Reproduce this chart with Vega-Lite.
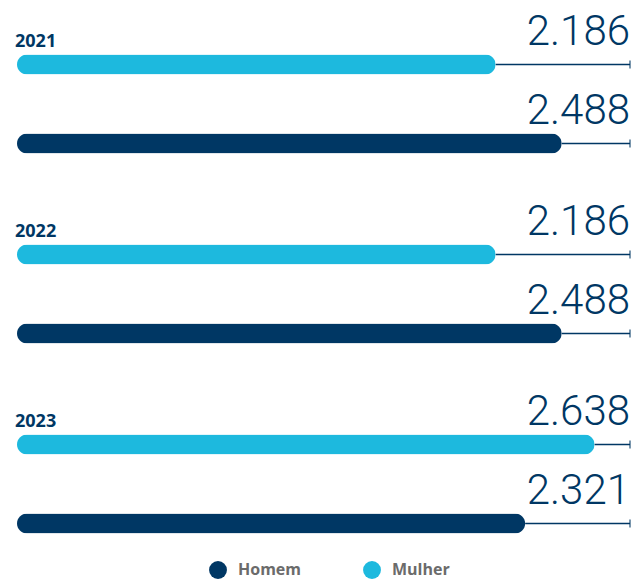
{
  "$schema": "https://vega.github.io/schema/vega-lite/v6.json",
  "padding": {"left": 15, "top": 10, "right": 6, "bottom": 5},
  "data": {"values": [
    {"year": "2021", "gender": "Mulher", "value": 2186},
    {"year": "2021", "gender": "Homem", "value": 2488},
    {"year": "2022", "gender": "Mulher", "value": 2186},
    {"year": "2022", "gender": "Homem", "value": 2488},
    {"year": "2023", "gender": "Mulher", "value": 2638},
    {"year": "2023", "gender": "Homem", "value": 2321}
  ]},
  "facet": {"row": {"field": "year", "type": "nominal", "header": null}},
  "spacing": 17,
  "spec": {
    "width": 613,
    "height": {"step": 79},
    "encoding": {
      "y": {"field": "gender", "type": "nominal", "sort": ["Mulher", "Homem"], "axis": null,
            "scale": {"paddingInner": 0, "paddingOuter": 0}}
    },
    "layer": [
      {
        "mark": {"type": "rule", "color": "#003764", "strokeWidth": 1.5},
        "encoding": {
          "x": {"field": "value", "type": "quantitative", "scale": {"domain": [0, 2800]}, "axis": null},
          "x2": {"datum": 2800}
        }
      },
      {
        "mark": {"type": "tick", "orient": "vertical", "size": 8, "thickness": 1.5, "color": "#003764"},
        "encoding": {"x": {"datum": 2800, "type": "quantitative"}}
      },
      {
        "mark": {"type": "bar", "height": 20, "cornerRadius": 10},
        "encoding": {
          "x": {"field": "value", "type": "quantitative"},
          "color": {
            "field": "gender", "type": "nominal",
            "scale": {"domain": ["Homem", "Mulher"], "range": ["#003764", "#1DB9DE"]},
            "legend": {
              "title": null, "orient": "none", "direction": "horizontal",
              "legendX": 192, "legendY": 536,
              "symbolType": "circle", "symbolSize": 320, "symbolStrokeWidth": 0,
              "labelFont": "Open Sans", "labelFontSize": 16, "labelFontWeight": "bold",
              "labelColor": "#6b6b6b", "labelOffset": 11, "columnPadding": 61
            }
          }
        }
      },
      {
        "mark": {"type": "text", "align": "right", "baseline": "alphabetic", "dy": -20,
                 "font": "Roboto", "fontWeight": 300, "fontSize": 42, "color": "#003764"},
        "encoding": {
          "x": {"datum": 2800, "type": "quantitative"},
          "text": {"field": "value", "type": "quantitative", "format": ",d"}
        }
      },
      {
        "transform": [{"filter": "datum.gender === 'Mulher'"}],
        "mark": {"type": "text", "align": "left", "baseline": "alphabetic", "dy": -18, "dx": -2,
                 "font": "Open Sans", "fontWeight": "bold", "fontSize": 18, "color": "#003764"},
        "encoding": {
          "x": {"datum": 0, "type": "quantitative"},
          "text": {"field": "year"}
        }
      }
    ]
  },
  "config": {
    "view": {"stroke": null},
    "locale": {"number": {"decimal": ",", "thousands": ".", "grouping": [3], "currency": ["R$", ""]}}
  }
}
